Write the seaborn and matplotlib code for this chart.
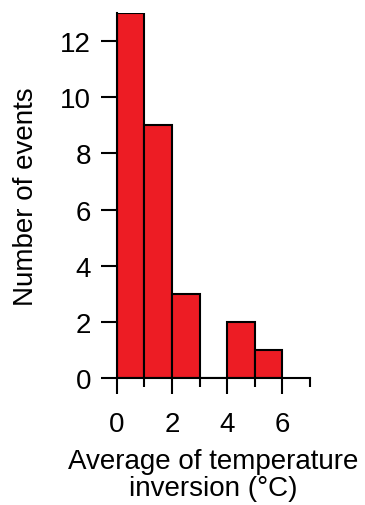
import matplotlib
matplotlib.use("Agg")
import matplotlib.pyplot as plt
from matplotlib.ticker import MultipleLocator
import seaborn as sns
import pandas as pd

# Histogram of event counts per 1 °C bin of mean inversion strength
bin_edges = [0, 1, 2, 3, 4, 5, 6]
bin_centers = [0.5, 1.5, 2.5, 3.5, 4.5, 5.5]
event_counts = [13, 9, 3, 0, 2, 1]
x_ticks = [0, 2, 4, 6]
y_ticks = [0, 2, 4, 6, 8, 10, 12]

df = pd.DataFrame({"inversion": bin_centers, "events": event_counts})

sns.set_theme(style="ticks")
plt.rcParams["font.family"] = ["Liberation Sans", "DejaVu Sans"]
plt.rcParams["text.color"] = "black"
plt.rcParams["axes.labelcolor"] = "black"
plt.rcParams["xtick.labelcolor"] = "black"
plt.rcParams["ytick.labelcolor"] = "black"

fig = plt.figure(figsize=(3.65, 5.06), dpi=100)
ax = fig.add_axes([0.32, 0.251, 0.529, 0.721])

sns.histplot(data=df, x="inversion", weights="events", bins=bin_edges,
             color="#ED1C24", alpha=1.0, edgecolor="black", linewidth=1.5,
             ax=ax)

ax.set_xlim(0, 7)
ax.set_ylim(0, 13)
ax.set_xticks(x_ticks)
ax.set_yticks(y_ticks)
ax.xaxis.set_minor_locator(MultipleLocator(1))
sns.despine(ax=ax)
for side in ("left", "bottom"):
    ax.spines[side].set_linewidth(1.5)
    ax.spines[side].set_color("black")

ax.tick_params(axis="both", which="major", length=11.5, width=1.5,
               color="black", labelcolor="black", labelsize=20, pad=7,
               direction="out")
ax.tick_params(axis="x", which="major", pad=12)
ax.tick_params(axis="x", which="minor", length=6.5, width=1.5,
               color="black", direction="out")

ax.set_xlabel("Average of temperature\ninversion (°C)", fontsize=20,
              color="black", linespacing=1.05, labelpad=8)
ax.set_ylabel("Number of events", fontsize=20, color="black", labelpad=15)

fig.savefig("out.png", dpi=100)
